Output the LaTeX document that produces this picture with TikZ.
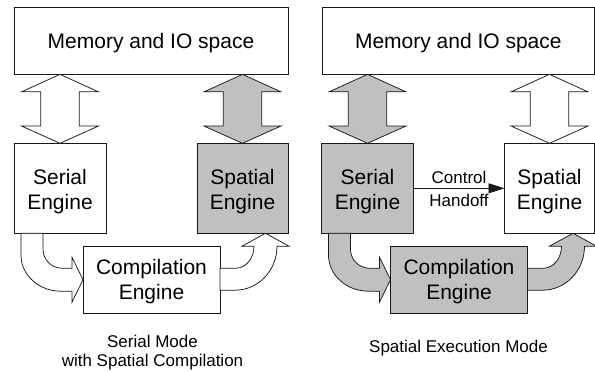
\documentclass[tikz,border=0pt]{standalone}
\usepackage{fontspec}
\setmainfont{Liberation Sans}
\usetikzlibrary{calc,arrows.meta}

\definecolor{engray}{RGB}{192,192,192}
\definecolor{edge}{RGB}{25,25,25}

\tikzset{
  box/.style={draw=edge, line width=0.75bp, outer sep=0pt, inner sep=0pt, fill=white},
  active/.style={fill=engray},
  idle/.style={fill=white},
  bigtext/.style={font=\fontsize{21bp}{25bp}\selectfont, align=center, inner sep=0pt},
  smalltext/.style={font=\fontsize{17bp}{19bp}\selectfont, align=center, inner sep=0pt},
  fatarrow/.style={draw=edge, line width=0.75bp, line join=miter},
  handoff/.style={draw=edge, line width=0.75bp, -{Triangle[length=16bp,width=10bp]}},
}

% two-headed block arrow between a top tip (#2) and a bottom tip (#3)
\newcommand\twoway[3]{%
  \draw[fatarrow,#1] (#2) -- ($(#2)+(38.5,17.5)$) -- ($(#2)+(19.2,17.5)$)
    -- ($(#3)+(19.2,-17.3)$) -- ($(#3)+(38.5,-17.3)$) -- (#3)
    -- ($(#3)+(-38.5,-17.3)$) -- ($(#3)+(-19.2,-17.3)$)
    -- ($(#2)+(-19.2,17.5)$) -- ($(#2)+(-38.5,17.5)$) -- cycle;}

% bent arrow from the serial engine down into the west side of node #2
\newcommand\feedarrow[2]{%
  \begin{scope}[shift={(#2.west)}]
    \draw[fatarrow,#1] (-62,-46.4) -- (-62,-24.5)
      .. controls (-62,-4.6) and (-44.1,11.5) .. (-22,11.5)
      -- (-11,11.5) -- (-11,22.5) -- (0,0) -- (-11,-22.5) -- (-11,-11.5)
      -- (-21,-11.5) .. controls (-31.5,-11.5) and (-40,-20) .. (-40,-30.5)
      -- (-40,-46.4) -- cycle;
  \end{scope}}

% bent arrow from the east side of node #2 up into the spatial engine
\newcommand\returnarrow[2]{%
  \begin{scope}[shift={(#2.east)}]
    \draw[fatarrow,#1] (0,-11.5) -- (16,-11.5)
      .. controls (25.9,-11.5) and (34,-21.4) .. (34,-33.5)
      -- (22,-33.5) -- (45.5,-46.4) -- (69,-33.5) -- (57,-33.5)
      .. controls (57,-9.2) and (38.2,10.5) .. (15,10.5)
      -- (0,10.5) -- cycle;
  \end{scope}}

\begin{document}
\begin{tikzpicture}[x=1bp,y=-1bp]
  \fill[white] (0,0) rectangle (595,371);
  \useasboundingbox (0,0) rectangle (595,371);

  % ---------- serial mode with spatial compilation ----------
  \node[box, idle, minimum width=274bp, minimum height=67.3bp, bigtext, text depth=0pt]
    (memL) at (151,40.7) {Memory and IO space};
  \node[box, idle, minimum width=92bp, minimum height=90bp] (serL) at (60,188.3) {};
  \node[box, active, minimum width=91bp, minimum height=90bp] (spaL) at (242.5,188.3) {};
  \node[box, idle, minimum width=137bp, minimum height=67.5bp] (cmpL) at (151.5,279.7) {};

  \coordinate (tSerL) at (memL.south -| serL.north);
  \coordinate (tSpaL) at (memL.south -| spaL.north);
  \twoway{idle}{tSerL}{serL.north}
  \twoway{active}{tSpaL}{spaL.north}
  \feedarrow{idle}{cmpL}
  \returnarrow{idle}{cmpL}

  \node[bigtext] (serLt) at ($(serL.center)+(0,3)$) {Serial\\Engine};
  \node[bigtext] (spaLt) at ($(spaL.center)+(0,3)$) {Spatial\\Engine};
  \node[bigtext] (cmpLt) at ($(cmpL.center)+(0,1.5)$) {Compilation\\Engine};

  \node[smalltext] (capL) at (152.5,352.9) {Serial Mode\\with Spatial Compilation};

  % ---------- spatial execution mode ----------
  \node[box, idle, minimum width=272.6bp, minimum height=67.3bp, bigtext, text depth=0pt]
    (memR) at (458.3,40.7) {Memory and IO space};
  \node[box, active, minimum width=92bp, minimum height=90bp] (serR) at (367.5,188.3) {};
  \node[box, idle, minimum width=90bp, minimum height=90bp] (spaR) at (549.5,188.3) {};
  \node[box, active, minimum width=137bp, minimum height=67.5bp] (cmpR) at (459,279.7) {};

  \coordinate (tSerR) at (memR.south -| serR.north);
  \coordinate (tSpaR) at (memR.south -| spaR.north);
  \twoway{active}{tSerR}{serR.north}
  \twoway{idle}{tSpaR}{spaR.north}
  \feedarrow{active}{cmpR}
  \returnarrow{active}{cmpR}

  \draw[handoff] (serR) -- (spaR);
  \coordinate (mid) at ($(serR.east)!0.5!(spaR.west)$);
  \node[smalltext, anchor=base] (ctl) at ($(mid)+(0,-5.3)$) {Control};
  \node[smalltext, anchor=base] (hnd) at ($(mid)+(0,17.7)$) {Handoff};

  \node[bigtext] (serRt) at ($(serR.center)+(0,3)$) {Serial\\Engine};
  \node[bigtext] (spaRt) at ($(spaR.center)+(0,3)$) {Spatial\\Engine};
  \node[bigtext] (cmpRt) at ($(cmpR.center)+(0,1.5)$) {Compilation\\Engine};

  \node[smalltext, anchor=base] (capR) at (458.5,352.3) {Spatial Execution Mode};
\end{tikzpicture}
\end{document}
